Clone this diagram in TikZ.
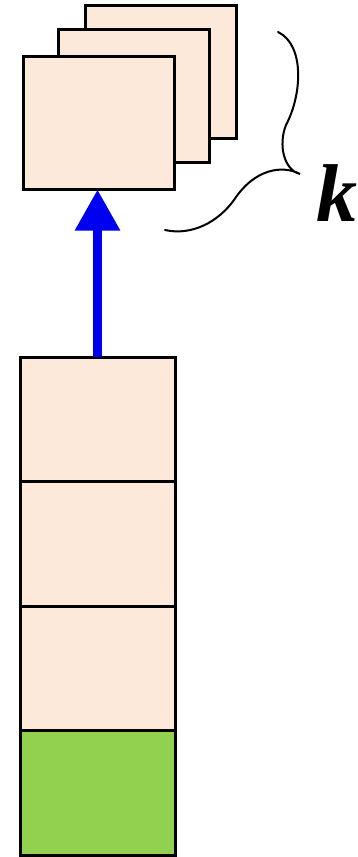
\documentclass[tikz,border=0pt]{standalone}
\usepackage{fontspec}
\newfontfamily\kfont{Liberation Serif}
\usetikzlibrary{arrows.meta}
\definecolor{peach}{HTML}{FDE9DA}
\definecolor{leaf}{HTML}{92D050}
\definecolor{arrowblue}{HTML}{0000F0}
\tikzset{
  cell/.style={draw=black, line width=3pt, fill=peach, minimum width=155pt, minimum height=124.5pt, inner sep=0pt, outer sep=0pt, anchor=north west},
  card/.style={draw=black, line width=3pt, fill=peach, minimum width=151pt, minimum height=133pt, inner sep=0pt, outer sep=0pt, anchor=north west},
  brace/.style={draw=black, line width=2pt, line cap=round},
  flow/.style={draw=arrowblue, line width=9pt, -{Triangle[width=43pt,length=41pt]}}
}
\begin{document}
\begin{tikzpicture}[x=1pt,y=-1pt]
\useasboundingbox (0,0) rectangle (358,857);
% stacked cards
\node[card] (b3) at (85.5,5.5) {};
\node[card] (b2) at (58.5,29.5) {};
\node[card] (b1) at (23.5,56.5) {};
% column
\node[cell] (c1) at (20,357) {};
\node[cell] (c2) at (20,481.5) {};
\node[cell] (c3) at (20,606) {};
\node[cell, fill=leaf] (c4) at (20,730.5) {};
% arrow
\draw[flow] (c1.north) -- (c1.north |- b1.south);
% brace
\coordinate (bt) at (278,32);
\coordinate (bm) at (300,174);
\coordinate (bb) at (165,230);
\draw[brace] (bt) .. controls (305,45) and (302,95) .. (286,125)
  .. controls (278,145) and (284,170) .. (bm)
  .. controls (283,165) and (255,168) .. (234,200)
  .. controls (218,222) and (192,236) .. (bb);
\node[inner sep=0pt, anchor=base west, font=\kfont\bfseries\itshape\fontsize{82}{82}\selectfont] (k) at (316,221) {k};
\end{tikzpicture}
\end{document}
